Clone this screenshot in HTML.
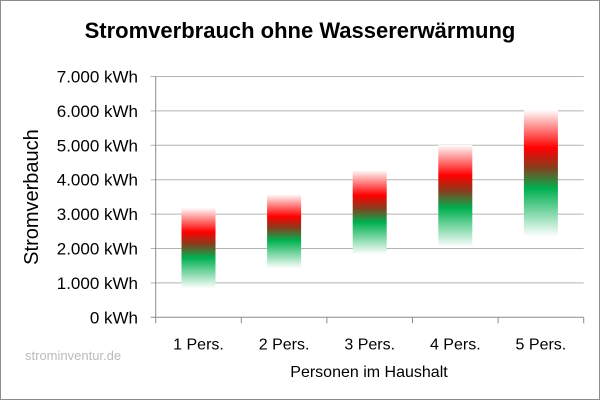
<!DOCTYPE html>
<html><head><meta charset="utf-8"><style>
body{margin:0;background:#fff}
svg{display:block;font-family:"Liberation Sans",Arial,sans-serif}
</style></head><body>
<svg width="600" height="400" viewBox="0 0 600 400">
<defs>
<linearGradient id="g" x1="0" y1="0" x2="0" y2="1">
<stop offset="0" stop-color="#fff"/>
<stop offset="0.3" stop-color="#ff0000"/>
<stop offset="0.45" stop-color="#8a3b1c"/>
<stop offset="0.62" stop-color="#00b050"/>
<stop offset="1" stop-color="#fff"/>
</linearGradient>
</defs>
<rect x="0.5" y="0.5" width="599" height="399" fill="#fff" stroke="#8c8c8c"/>
<text x="300" y="38" text-anchor="middle" font-size="22" font-weight="bold" fill="#000">Stromverbrauch ohne Wassererwärmung</text>
<g id="grid"></g><g id="bars"></g><g id="axes"></g>
<text transform="translate(38,197) rotate(-90)" text-anchor="middle" font-size="20">Stromverbauch</text>
<text x="369" y="377" text-anchor="middle" font-size="16">Personen im Haushalt</text>
<text x="25" y="360" font-size="13" fill="#bbb">strominventur.de</text>
</svg>
<script>
const categories=["1 Pers.","2 Pers.","3 Pers.","4 Pers.","5 Pers."];
const lowValues=[840,1420,1830,2050,2340];
const highValues=[3190,3580,4280,5010,6030];
const yTicks=[0,1000,2000,3000,4000,5000,6000,7000];
const yTickLabels=["0 kWh","1.000 kWh","2.000 kWh","3.000 kWh","4.000 kWh","5.000 kWh","6.000 kWh","7.000 kWh"];
const NS="http://www.w3.org/2000/svg";
const x0=155.7,x1=583.7,y0=317.3,pxPer=34.4/1000;
const y=v=>y0-v*pxPer;
const band=(x1-x0)/categories.length;
const xc=i=>x0+band*(i+0.5);
function mk(t,a,p){const e=document.createElementNS(NS,t);for(const k in a)e.setAttribute(k,a[k]);p.appendChild(e);return e;}
const grid=document.getElementById('grid'),bars=document.getElementById('bars'),axes=document.getElementById('axes');
yTicks.forEach((v,i)=>{
  if(v>0){const l=mk('line',{x1:x0-5,x2:x1,y1:y(v),y2:y(v),stroke:'#b3b3b3','stroke-width':1},grid);
  
  }
  const t=mk('text',{x:138,y:y(v)+6,'text-anchor':'end','font-size':17},axes);
  t.textContent=yTickLabels[i];
  
  
});
categories.forEach((c,i)=>{
  const r=mk('rect',{x:xc(i)-17,width:34,y:y(highValues[i]),height:y(lowValues[i])-y(highValues[i]),fill:'url(#g)'},bars);
  
  
  const t=mk('text',{x:xc(i),y:y0+32,'text-anchor':'middle','font-size':16},axes);
  t.textContent=c;
  
  
  const tk=mk('line',{x1:x0+band*(i+1),x2:x0+band*(i+1),y1:y0,y2:y0+6,stroke:'#8c8c8c'},axes);
  
  
});
const ya=mk('line',{x1:x0,x2:x0,y1:y(7000),y2:y0+6,stroke:'#8c8c8c'},axes);


const xa=mk('line',{x1:x0-5,x2:x1,y1:y0,y2:y0,stroke:'#8c8c8c'},axes);


const tl=mk('line',{x1:x0-5,x2:x1,y1:y(7000),y2:y(7000),stroke:'#b3b3b3'},grid);


</script>
</body></html>
